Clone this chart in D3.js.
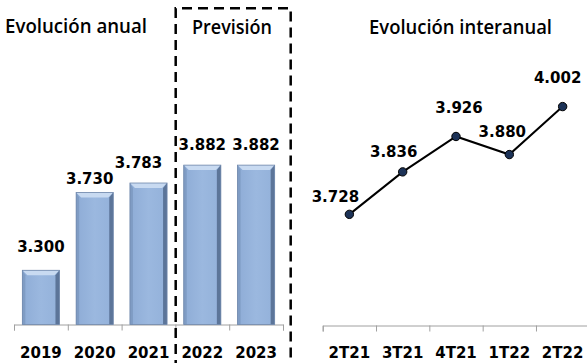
<!DOCTYPE html>
<html>
<head>
<meta charset="utf-8">
<script src="https://cdn.jsdelivr.net/npm/d3@7"></script>
<style>
  body { margin: 0; background: #fff; }
  svg { display: block; }
  .val, .tick-lbl { font-family: "DejaVu Sans", sans-serif; font-weight: bold; font-size: 15px; fill: #000; }
  .title { font-family: "Open Sans", "DejaVu Sans", sans-serif; font-weight: 600; font-size: 19px; fill: #000; }
</style>
</head>
<body>
<div id="chart"></div>
<script>
// annual evolution (bars)
var years = ["2019", "2020", "2021", "2022", "2023"];
var annual = [3.300, 3.730, 3.783, 3.882, 3.882];
// year-on-year evolution (line)
var quarters = ["2T21", "3T21", "4T21", "1T22", "2T22"];
var interannual = [3.728, 3.836, 3.926, 3.880, 4.002];

var fmt = function (v) { return d3.format(".3f")(v).replace(",", "."); };

var width = 587, height = 363;

var svg = d3.select("#chart")
  .append("svg")
  .attr("width", width)
  .attr("height", height);

var defs = svg.append("defs");
var grad = defs.append("linearGradient").attr("id", "barFill")
  .attr("x1", "0").attr("x2", "1").attr("y1", "0").attr("y2", "0");
grad.append("stop").attr("offset", "0").attr("stop-color", "#8eacd6");
grad.append("stop").attr("offset", "0.5").attr("stop-color", "#9bb8df");
grad.append("stop").attr("offset", "1").attr("stop-color", "#93b1da");

// ---------- bar chart ----------
var barBase = 324.5;
var xBar = d3.scaleBand()
  .domain(years)
  .range([14, 283])
  .paddingInner(0.31)
  .paddingOuter(0.155);
var yBar = d3.scaleLinear()
  .domain([3.0, 4.0])
  .range([barBase, 143.8]);

// axis line + boundary ticks
var xBarTicks = d3.scaleLinear().domain([0, years.length]).range(xBar.range());
var axB = svg.append("g")
  .attr("transform", "translate(0," + barBase + ")")
  .call(d3.axisBottom(xBarTicks).ticks(years.length).tickFormat("").tickSize(6).tickSizeOuter(6));
axB.selectAll("path, line").attr("stroke", "#a0a0a0");

var labB = svg.append("g")
  .attr("transform", "translate(0," + barBase + ")")
  .call(d3.axisBottom(xBar).tickSize(0).tickPadding(0));
labB.select(".domain").remove();
labB.selectAll("text").attr("class", "tick-lbl").attr("y", 33).attr("dy", null)
  .attr("font-family", null).attr("font-size", null);

var bars = svg.append("g").selectAll("g")
  .data(annual)
  .enter().append("g");

bars.each(function (d, i) {
  var g = d3.select(this);
  var x0 = xBar(years[i]), w = xBar.bandwidth();
  var y0 = yBar(d), y1 = yBar.range()[0];
  var b = 5;
  g.append("rect").attr("x", x0).attr("y", y0).attr("width", w).attr("height", y1 - y0)
    .attr("fill", "url(#barFill)");
  // top bevel
  g.append("path")
    .attr("d", "M" + x0 + "," + y0 + "H" + (x0 + w) + "L" + (x0 + w - b) + "," + (y0 + b) + "H" + (x0 + b) + "Z")
    .attr("fill", "#c8daf1");
  // right bevel
  g.append("path")
    .attr("d", "M" + (x0 + w) + "," + y0 + "V" + y1 + "H" + (x0 + w - 4) + "V" + (y0 + b) + "Z")
    .attr("fill", "#5c7599");
  // left bevel
  g.append("path")
    .attr("d", "M" + x0 + "," + y0 + "V" + y1 + "H" + (x0 + 3) + "V" + (y0 + b) + "Z")
    .attr("fill", "#7f9cc4");
  g.append("rect").attr("x", x0).attr("y", y0).attr("width", w).attr("height", y1 - y0)
    .attr("fill", "none").attr("stroke", "#6f87aa").attr("stroke-width", 0.8);
});

var barLblDx = [0, -5, -10, 0, 0];
var barLblDy = [-24, -14, -21, -21, -21];
svg.append("g").selectAll("text")
  .data(annual)
  .enter().append("text")
  .attr("class", "val")
  .attr("text-anchor", "middle")
  .attr("x", function (d, i) { return xBar(years[i]) + xBar.bandwidth() / 2 + barLblDx[i]; })
  .attr("y", function (d, i) { return yBar(d) + barLblDy[i] + 5.5; })
  .text(fmt);

// dashed forecast box
svg.append("path")
  .attr("d", "M175.7,370V8.3H290.7V370")
  .attr("fill", "none")
  .attr("stroke", "#000")
  .attr("stroke-width", 2.5)
  .attr("stroke-dasharray", "10,6");

svg.append("text").attr("class", "title").attr("x", 5).attr("y", 33)
  .attr("textLength", 142).attr("lengthAdjust", "spacingAndGlyphs").text("Evolución anual");
svg.append("text").attr("class", "title").attr("x", 192).attr("y", 34)
  .attr("textLength", 80).attr("lengthAdjust", "spacingAndGlyphs").text("Previsión");

// ---------- line chart ----------
var lineBase = 325.5;
var xLine = d3.scaleBand()
  .domain(quarters)
  .range([322.7, 589.3]);
var yLine = d3.scaleLinear()
  .domain([3.45, 4.05])
  .range([323.7, 87.7]);

var xLineTicks = d3.scaleLinear().domain([0, quarters.length]).range(xLine.range());
var axL = svg.append("g")
  .attr("transform", "translate(0," + lineBase + ")")
  .call(d3.axisBottom(xLineTicks).ticks(quarters.length).tickFormat("").tickSize(6).tickSizeOuter(6));
axL.selectAll("path, line").attr("stroke", "#a0a0a0");

var labL = svg.append("g")
  .attr("transform", "translate(0," + lineBase + ")")
  .call(d3.axisBottom(xLine).tickSize(0).tickPadding(0));
labL.select(".domain").remove();
labL.selectAll("text").attr("class", "tick-lbl").attr("y", 32).attr("dy", null)
  .attr("font-family", null).attr("font-size", null);

var cx = function (d, i) { return xLine(quarters[i]) + xLine.bandwidth() / 2; };

svg.append("path")
  .datum(interannual)
  .attr("fill", "none")
  .attr("stroke", "#000")
  .attr("stroke-width", 2)
  .attr("d", d3.line().x(cx).y(function (d) { return yLine(d); }));

svg.append("g").selectAll("circle")
  .data(interannual)
  .enter().append("circle")
  .attr("cx", cx)
  .attr("cy", function (d) { return yLine(d); })
  .attr("r", 4.2)
  .attr("fill", "#1c3257")
  .attr("stroke", "#000")
  .attr("stroke-width", 1);

var lineLblDx = [-14, -9, 3, -7, -5];
var lineLblDy = [-17.6, -20, -29, -23, -29];
svg.append("g").selectAll("text")
  .data(interannual)
  .enter().append("text")
  .attr("class", "val")
  .attr("text-anchor", "middle")
  .attr("x", function (d, i) { return cx(d, i) + lineLblDx[i]; })
  .attr("y", function (d, i) { return yLine(d) + lineLblDy[i] + 5.5; })
  .text(fmt);

svg.append("text").attr("class", "title").attr("x", 369).attr("y", 34)
  .attr("textLength", 183).attr("lengthAdjust", "spacingAndGlyphs").text("Evolución interanual");
</script>
</body>
</html>
